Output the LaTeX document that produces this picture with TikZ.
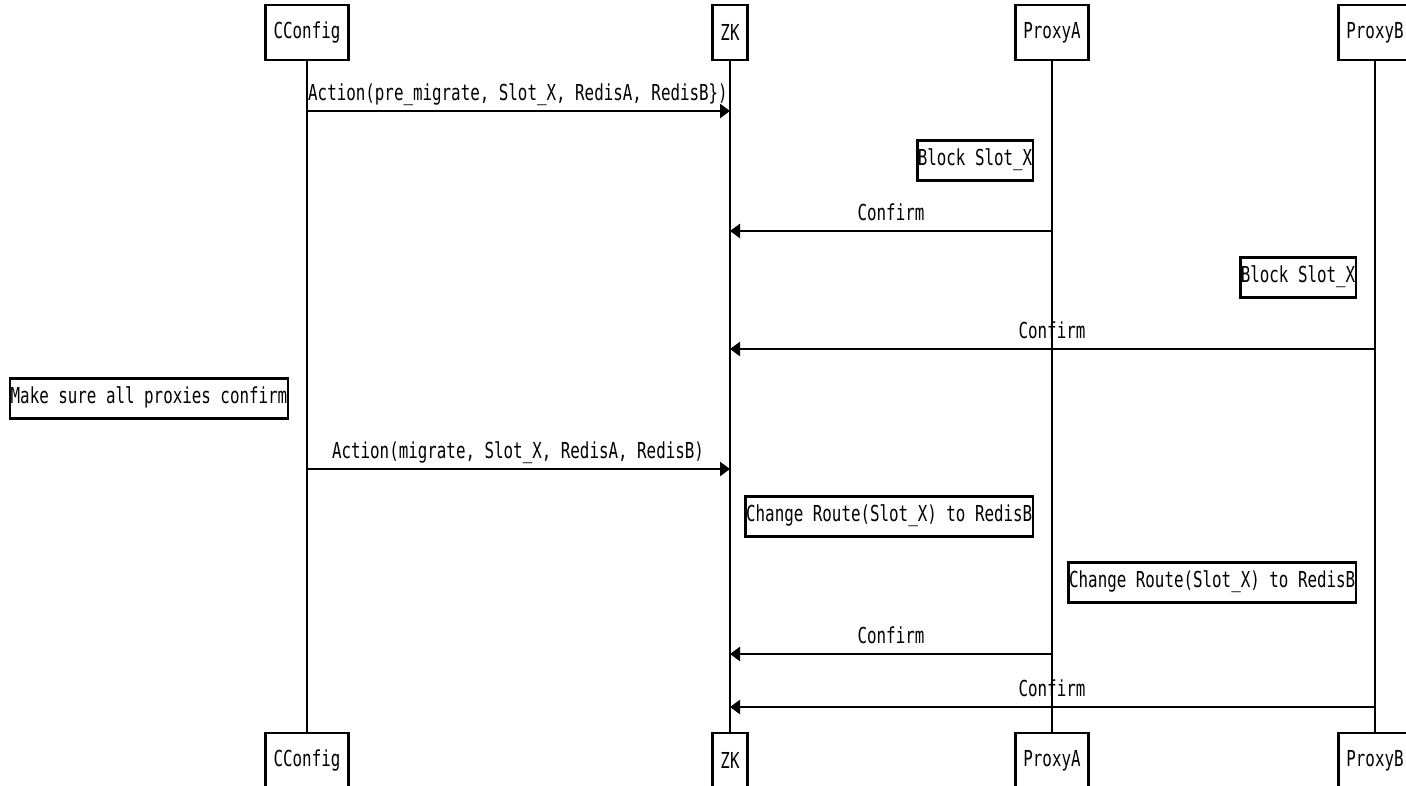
\documentclass[tikz,border=0pt]{standalone}
\usepackage{fontspec}
\setmainfont[FakeStretch=0.72]{DejaVu Sans Mono}
\usetikzlibrary{arrows.meta}

\begin{document}
\begin{tikzpicture}[x=1pt,y=-1pt,
  actor/.style={draw,line width=2.5pt,minimum height=55pt,inner xsep=8pt},
  note/.style={draw,line width=2.5pt,inner xsep=0.5pt,inner ysep=0pt,text height=25pt,text depth=15pt,anchor=north east},
  msg/.style={line width=2.5pt,-{Triangle[length=10pt,width=14pt]}},
  life/.style={line width=2pt},
  font=\fontsize{22}{26}\selectfont]
\useasboundingbox (0,0) rectangle (1406,785);

% actors, top and bottom
\node[actor] (cfgtop) at (307,32.5) {CConfig};
\node[actor] (zktop) at (730,32.5) {ZK};
\node[actor] (patop) at (1052,32.5) {ProxyA};
\node[actor] (pbtop) at (1375,32.5) {ProxyB};
\node[actor] (cfgbot) at (307,760.5) {CConfig};
\node[actor] (zkbot) at (730,760.5) {ZK};
\node[actor] (pabot) at (1052,760.5) {ProxyA};
\node[actor] (pbbot) at (1375,760.5) {ProxyB};

% lifelines
\draw[life] (cfgtop) -- (cfgbot);
\draw[life] (zktop) -- (zkbot);
\draw[life] (patop) -- (pabot);
\draw[life] (pbtop) -- (pbbot);

% messages
\draw[msg] (cfgtop |- 0,111) -- (zktop |- 0,111);
\node[anchor=base] (m1) at (518,100) {Action(pre\_migrate, Slot\_X, RedisA, RedisB\})};

\node[note] (blocka) at (1034,139) {Block Slot\_X};

\draw[msg] (patop |- 0,231) -- (zktop |- 0,231);
\node[anchor=base] (m2) at (891,220) {Confirm};

\node[note] (blockb) at (1357,256) {Block Slot\_X};

\draw[msg] (pbtop |- 0,349) -- (zktop |- 0,349);
\node[anchor=base] (m3) at (1052,338) {Confirm};

\node[note] (sure) at (289,377) {Make sure all proxies confirm};

\draw[msg] (cfgtop |- 0,469) -- (zktop |- 0,469);
\node[anchor=base] (m4) at (518,458) {Action(migrate, Slot\_X, RedisA, RedisB)};

\node[note] (routea) at (1034,495) {Change Route(Slot\_X) to RedisB};
\node[note] (routeb) at (1357,561) {Change Route(Slot\_X) to RedisB};

\draw[msg] (patop |- 0,654) -- (zktop |- 0,654);
\node[anchor=base] (m5) at (891,643) {Confirm};

\draw[msg] (pbtop |- 0,707) -- (zktop |- 0,707);
\node[anchor=base] (m6) at (1052,696) {Confirm};
\end{tikzpicture}
\end{document}
